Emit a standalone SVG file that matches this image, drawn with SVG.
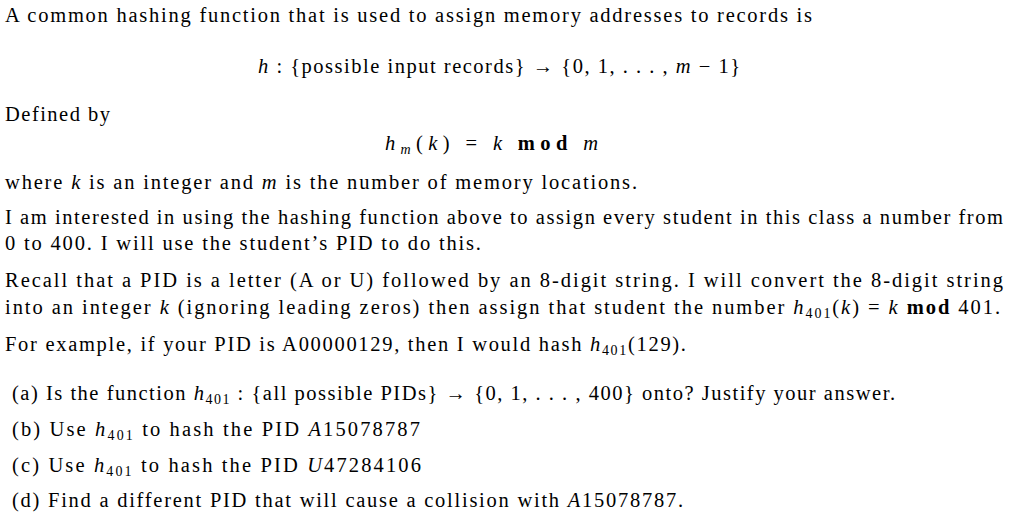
<svg xmlns="http://www.w3.org/2000/svg" width="1024" height="524" viewBox="0 0 1024 524">
<style>
text{font-family:"Liberation Serif","DejaVu Serif",serif;font-size:20.5px;fill:#000}
.i{font-style:italic}
.b{font-weight:bold}
.s{font-size:14px}
</style>
<rect width="1024" height="524" fill="#fff"/>
<g id="text">
<text x="5" y="22" textLength="807" lengthAdjust="spacing">A common hashing function that is used to assign memory addresses to records is</text>
<text x="258" y="73" textLength="482" lengthAdjust="spacing"><tspan class="i">h</tspan> : {possible input records} → {0, 1, . . . , <tspan class="i">m</tspan> − 1}</text>
<text x="5" y="121" textLength="105" lengthAdjust="spacing">Defined by</text>
<text x="385" y="150" textLength="213" lengthAdjust="spacing"><tspan class="i">h</tspan><tspan class="i s" dy="4">m</tspan><tspan dy="-4">(</tspan><tspan class="i">k</tspan>) = <tspan class="i">k</tspan> <tspan class="b">mod</tspan> <tspan class="i">m</tspan></text>
<text x="5" y="189" textLength="632" lengthAdjust="spacing">where <tspan class="i">k</tspan> is an integer and <tspan class="i">m</tspan> is the number of memory locations.</text>
<text x="5" y="224" textLength="998" lengthAdjust="spacing">I am interested in using the hashing function above to assign every student in this class a number from</text>
<text x="5" y="250" textLength="476" lengthAdjust="spacing">0 to 400. I will use the student’s PID to do this.</text>
<text x="5" y="287" textLength="998" lengthAdjust="spacing">Recall that a PID is a letter (A or U) followed by an 8-digit string. I will convert the 8-digit string</text>
<text x="5" y="314" textLength="995" lengthAdjust="spacing">into an integer <tspan class="i">k</tspan> (ignoring leading zeros) then assign that student the number <tspan class="i">h</tspan><tspan class="s" dy="4">401</tspan><tspan dy="-4">(</tspan><tspan class="i">k</tspan>) = <tspan class="i">k</tspan> <tspan class="b">mod</tspan> 401.</text>
<text x="5" y="351" textLength="681" lengthAdjust="spacing">For example, if your PID is A00000129, then I would hash <tspan class="i">h</tspan><tspan class="s" dy="4">401</tspan><tspan dy="-4">(129).</tspan></text>
<text x="12" y="400" textLength="883" lengthAdjust="spacing">(a)  Is the function <tspan class="i">h</tspan><tspan class="s" dy="4">401</tspan><tspan dy="-4"> : {all possible PIDs} → {0, 1, . . . , 400} onto? Justify your answer.</tspan></text>
<text x="12" y="436" textLength="408" lengthAdjust="spacing">(b)  Use <tspan class="i">h</tspan><tspan class="s" dy="4">401</tspan><tspan dy="-4"> to hash the PID </tspan><tspan class="i">A</tspan>15078787</text>
<text x="12" y="472" textLength="409" lengthAdjust="spacing">(c)  Use <tspan class="i">h</tspan><tspan class="s" dy="4">401</tspan><tspan dy="-4"> to hash the PID </tspan><tspan class="i">U</tspan>47284106</text>
<text x="12" y="507" textLength="671" lengthAdjust="spacing">(d)  Find a different PID that will cause a collision with <tspan class="i">A</tspan>15078787.</text>
</g>
</svg>
